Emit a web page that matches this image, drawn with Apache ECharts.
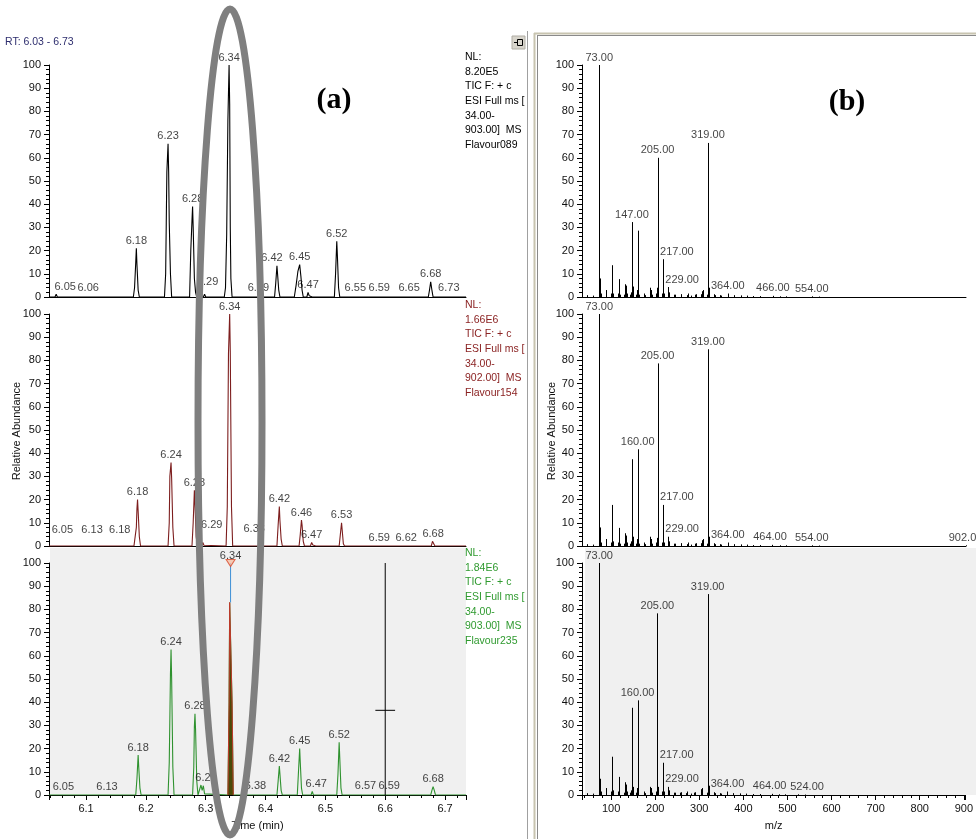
<!DOCTYPE html>
<html><head><meta charset="utf-8">
<script src="https://cdn.jsdelivr.net/npm/echarts@6/dist/echarts.min.js"></script>
<style>html,body{margin:0;padding:0;background:#fff}#c{width:976px;height:839px}</style>
</head><body><div id="c"></div>
<script>
// ---------------- DATA ----------------
// Chromatogram traces [retention time (min), relative abundance %]
const chrom089 = [[6.038,0],[6.048,0],[6.050,1.2],[6.052,0],[6.058,0],[6.060,0.6],[6.062,0],
[6.179,0],[6.181,4],[6.183,15],[6.184,21],[6.185,14],[6.187,3],[6.189,0],
[6.231,0],[6.233,10],[6.234,32],[6.235,54],[6.237,66],[6.238,54],[6.239,32],[6.241,10],[6.243,0],
[6.273,0],[6.275,20],[6.277,33],[6.278,39],[6.279,30],[6.281,8],[6.283,2],[6.285,0],
[6.296,0],[6.298,1.2],[6.300,0],
[6.331,0],[6.333,4],[6.335,27],[6.337,76],[6.339,100],[6.340,83],[6.341,30],[6.342,8],[6.344,0],
[6.386,0],[6.388,0.6],[6.390,0],
[6.415,0],[6.417,6],[6.419,13.5],[6.420,10],[6.422,3],[6.424,0],
[6.448,0],[6.451,5],[6.454,11],[6.457,14],[6.459,9],[6.461,3],[6.463,0],
[6.469,0],[6.471,2],[6.473,0.5],[6.476,1],[6.478,0],
[6.515,0],[6.517,10],[6.519,24],[6.520,18],[6.522,4],[6.524,0],
[6.548,0],[6.550,0.5],[6.552,0],
[6.588,0],[6.590,0.5],[6.592,0],
[6.648,0],[6.650,0.5],[6.652,0],
[6.672,0],[6.674,3],[6.676,6.5],[6.678,3],[6.680,0],
[6.726,0],[6.728,0.5],[6.730,0],[6.735,0]];

const chrom154 = [[6.038,0],[6.050,0],[6.052,0.4],[6.054,0],
[6.128,0],[6.130,0.4],[6.132,0],
[6.176,0],[6.178,0.3],[6.180,0],
[6.182,0],[6.184,8],[6.185,16],[6.186,20],[6.187,15],[6.189,4],[6.191,0],
[6.237,0],[6.239,10],[6.240,30],[6.242,36],[6.243,29],[6.245,8],[6.247,0],
[6.277,0],[6.279,10],[6.281,24],[6.282,18],[6.284,4],[6.286,0],
[6.293,0],[6.295,1.5],[6.297,0.3],[6.299,0],
[6.334,0],[6.336,17],[6.337,50],[6.338,83],[6.340,100],[6.341,84],[6.342,50],[6.343,17],[6.345,0],
[6.379,0],[6.381,0.5],[6.383,0],
[6.419,0],[6.421,9],[6.423,17],[6.424,11],[6.426,3],[6.428,0],
[6.456,0],[6.458,5],[6.460,11.2],[6.461,9],[6.463,2],[6.465,0],
[6.475,0],[6.477,1.5],[6.479,0.4],[6.482,0.8],[6.484,0],
[6.523,0],[6.525,5],[6.527,10],[6.528,7],[6.530,1],[6.532,0],
[6.588,0],[6.590,0.3],[6.592,0],
[6.618,0],[6.620,0.4],[6.622,0],
[6.677,0],[6.679,2],[6.681,2],[6.683,0],
[6.735,0]];

const chrom235 = [[6.038,0],[6.050,0],[6.052,0.4],[6.054,0],
[6.133,0],[6.135,0.3],[6.137,0],
[6.183,0],[6.185,7],[6.187,17.2],[6.188,12],[6.190,3],[6.192,0],
[6.237,0],[6.239,14],[6.241,52],[6.242,62.7],[6.243,50],[6.245,12],[6.247,0],
[6.278,0],[6.280,12],[6.281,29.5],[6.282,35],[6.283,28],[6.285,6],[6.287,0],
[6.290,0],[6.292,4.3],[6.294,2],[6.296,4],[6.298,0.5],[6.300,0],
[6.337,0],[6.339,40],[6.340,83],[6.343,83],[6.344,40],[6.346,0],
[6.381,0],[6.383,0.5],[6.385,0],
[6.419,0],[6.421,6],[6.423,12.5],[6.424,9],[6.426,2],[6.428,0],
[6.453,0],[6.455,10],[6.457,20],[6.458,14],[6.460,3],[6.462,0],
[6.476,0],[6.478,1.5],[6.480,0],
[6.519,0],[6.521,9],[6.523,22.7],[6.524,16],[6.526,3],[6.528,0],
[6.565,0],[6.567,0.5],[6.569,0],
[6.588,0],[6.590,0.5],[6.592,0],
[6.676,0],[6.678,2],[6.680,3.6],[6.682,2],[6.684,0],
[6.735,0]];

// Peak labels [text, apex RT, apex abundance]
const labels089 = [['6.05',6.050,1.2],['6.06',6.060,0.6],['6.18',6.184,21],['6.23',6.237,66],['6.28',6.278,39],['6.29',6.298,1.2],['6.34',6.339,100],['6.39',6.388,0.6],['6.42',6.419,13.5],['6.45',6.457,14],['6.47',6.471,2],['6.52',6.519,24],['6.55',6.550,0.5],['6.59',6.590,0.5],['6.65',6.650,0.5],['6.68',6.676,6.5],['6.73',6.728,0.5]];
const labels154 = [['6.05',6.052,0.4],['6.13',6.130,0.4],['6.18',6.178,0.3],['6.18',6.186,20],['6.24',6.242,36],['6.28',6.281,24],['6.29',6.295,1.5],['6.34',6.340,100],['6.38',6.381,0.5],['6.42',6.423,17],['6.46',6.460,11.2],['6.47',6.477,1.5],['6.53',6.527,10],['6.59',6.590,0.3],['6.62',6.620,0.4],['6.68',6.680,2]];
const labels235 = [['6.05',6.052,0.4],['6.13',6.135,0.3],['6.18',6.187,17.2],['6.24',6.242,62.7],['6.28',6.282,35],['6.29',6.292,4.3],['6.34',6.3415,100],['6.38',6.383,0.5],['6.42',6.423,12.5],['6.45',6.457,20],['6.47',6.478,1.5],['6.52',6.523,22.7],['6.57',6.567,0.5],['6.59',6.590,0.5],['6.68',6.680,3.6]];

// Selected (highlighted) peak in Flavour235 and cursor
const selPeakRange = [6.337, 6.346];
const selApex = [6.3415, 83, 100];
const cursorRt = 6.60, cursorLevel = 36.5, cursorHalf = 0.0165;

// Mass spectra [m/z, relative abundance %]
const spec089 = [[45,0.8],[59,0.6],[73,100],[74,8],[75,4.8],[77,1.5],[89,3],[100,1.5],[101,2],[103,13.7],[104,1.5],[115,1.5],[117,7.7],[119,1],[130,1],[131,5.5],[133,4.9],[135,1.5],[143,1],[145,2],[147,32.3],[148,4],[149,4.5],[157,1],[159,3],[160,28.6],[161,4.5],[162,1],[175,1.5],[177,0.8],[189,4],[191,3],[193,1],[201,1.5],[203,4],[204,1.5],[205,60],[206,4],[207,3],[215,1.5],[217,16.3],[218,3],[219,1.5],[229,4.3],[230,1],[231,2],[243,1],[245,1],[257,1],[259,1.2],[271,0.8],[273,1.5],[281,0.6],[289,1],[291,1.2],[303,1.2],[305,2.5],[307,3],[317,1],[319,66.4],[320,10.2],[321,4],[333,1.2],[335,0.8],[347,0.8],[349,0.6],[364,1.5],[377,0.8],[393,0.7],[407,0.6],[421,0.4],[437,0.4],[466,0.5],[481,0.3],[495,0.3],[554,0.3],[570,0.2]];
const spec154 = [[45,0.8],[59,0.6],[73,100],[74,8],[75,5],[77,1.5],[89,3],[100,1.5],[101,2],[103,17.7],[104,2],[115,1.5],[117,7.8],[119,1],[130,1],[131,5.5],[133,4.5],[135,1.5],[143,1],[145,2],[147,37.4],[148,4],[149,4],[157,1],[159,3],[160,41.7],[161,5],[162,1],[175,1.5],[177,0.8],[189,4],[191,3],[193,1],[201,1.5],[203,3.5],[204,1.5],[205,78.7],[206,4],[207,3.5],[215,1.5],[217,17.7],[218,3],[219,1.5],[229,4],[230,1],[231,2],[243,1],[245,1],[257,1],[259,1.2],[271,0.8],[273,1.5],[281,0.6],[289,1],[291,1.2],[303,1.2],[305,2.5],[307,3],[317,1],[319,84.8],[320,8.6],[321,4],[333,1.2],[335,0.8],[347,0.8],[349,0.6],[364,1.5],[377,0.8],[393,0.7],[407,0.6],[421,0.4],[437,0.4],[464,0.5],[481,0.3],[495,0.3],[554,0.3],[570,0.2],[902,0.3]];
const spec235 = [[45,0.8],[59,0.6],[73,100],[74,7],[75,4.7],[77,1.5],[89,3],[100,1.5],[101,2],[103,16.5],[104,2],[115,1.5],[117,7.8],[119,1],[130,1],[131,5.5],[133,4.5],[135,1.5],[143,1],[145,2],[147,37.6],[148,3.5],[149,3.5],[157,1],[159,3],[160,40.8],[161,4],[162,1],[175,1.5],[177,0.8],[189,3.5],[191,3],[193,1],[201,1.5],[203,3.5],[204,1.5],[205,78.3],[206,3.5],[207,3],[215,1.5],[217,13.9],[218,3],[219,1.5],[229,3.5],[230,1],[231,2],[243,1],[245,1],[257,1],[259,1.2],[271,0.8],[273,1.5],[281,0.6],[289,1],[291,1.2],[303,1.2],[305,2.5],[307,3],[317,1],[319,86.6],[320,7.6],[321,4],[333,1.2],[335,0.8],[347,0.8],[349,0.6],[364,1.5],[377,0.8],[393,0.7],[407,0.6],[421,0.4],[437,0.4],[464,0.5],[481,0.3],[495,0.3],[524,0.3],[540,0.2]];

const specLabels089 = [['73.00',73,100],['147.00',147,32.3],['205.00',205,60],['217.00',217,16.3],['229.00',229,4.3],['319.00',319,66.4],['364.00',364,1.5],['466.00',466,0.5],['554.00',554,0.3]];
const specLabels154 = [['73.00',73,100],['160.00',160,41.7],['205.00',205,78.7],['217.00',217,17.7],['229.00',229,4],['319.00',319,84.8],['364.00',364,1.5],['464.00',464,0.5],['554.00',554,0.3],['902.00',902,0.3]];
const specLabels235 = [['73.00',73,100],['160.00',160,40.8],['205.00',205,78.3],['217.00',217,13.9],['229.00',229,3.5],['319.00',319,86.6],['364.00',364,1.5],['464.00',464,0.5],['524.00',524,0.3]];

const rtRange = [6.038, 6.735];
const mzRange = [34, 903];
const infoTexts = [
  ['NL:','8.20E5','TIC F: + c','ESI Full ms [','34.00-','903.00]  MS','Flavour089'],
  ['NL:','1.66E6','TIC F: + c','ESI Full ms [','34.00-','902.00]  MS','Flavour154'],
  ['NL:','1.84E6','TIC F: + c','ESI Full ms [','34.00-','903.00]  MS','Flavour235']
];

// ---------------- STYLE / LAYOUT ----------------
const FONT = '"Liberation Sans", Arial, sans-serif';
const traceColors = ['#000000', '#7d1e1e', '#2f922f'];
const GL = 49, GWL = 417, GR = 582, GWR = 384, TOPS = [65, 314, 563], GH = 232;
// label nudges in px, keyed by trace index and apex position
const chromNudge = [
  {'6.05':[9,0],'6.06':[26,0],'6.298':[3,-5],'6.65':[-6,0],'6.728':[-13,0],'6.419':[-5,0]},
  {'6.052':[5,-8],'6.13':[-12,-8],'6.178':[-13,-8],'6.295':[9,-10],'6.381':[0,-8],'6.62':[9,0]},
  {'6.052':[6,0],'6.292':[5,0],'6.478':[4,0],'6.59':[10,0]}
];
const specNudge = {'217.00':[14,0],'229.00':[14,0],'524.00':[9,0],'464.00':[-2,0]};

const grids = [], xAxes = [], yAxes = [], series = [];
for (let i = 0; i < 6; i++) {
  const left = i < 3;
  grids.push({left: left ? GL : GR, width: left ? GWL : GWR, top: TOPS[i % 3], height: GH, containLabel: false});
  const bottom = (i % 3) === 2;
  xAxes.push({
    type: 'value', gridIndex: i,
    min: left ? rtRange[0] : mzRange[0], max: left ? rtRange[1] : mzRange[1],
    splitNumber: left ? 7 : 9,
    axisLine: {show: true, lineStyle: {color: '#000', width: 1}},
    axisTick: {show: bottom, length: 5, lineStyle: {color: '#000'}},
    minorTick: {show: bottom, splitNumber: 5, length: 3, lineStyle: {color: '#000'}},
    axisLabel: {show: bottom, showMinLabel: false, showMaxLabel: false, fontSize: 11, color: '#111', fontFamily: FONT, margin: 8,
      formatter: v => left ? String(+(+v).toFixed(2)) : String(Math.round(v))},
    splitLine: {show: false},
    name: bottom ? (left ? 'Time (min)' : 'm/z') : '',
    nameLocation: 'middle', nameGap: 25,
    nameTextStyle: {fontSize: 11, color: '#111', fontFamily: FONT}
  });
  yAxes.push({
    type: 'value', gridIndex: i, min: 0, max: 100, interval: 10,
    axisLine: {show: true, lineStyle: {color: '#000', width: 1}},
    axisTick: {show: true, length: 5, lineStyle: {color: '#000'}},
    minorTick: {show: true, splitNumber: 5, length: 3, lineStyle: {color: '#000'}},
    axisLabel: {fontSize: 11, color: '#111', fontFamily: FONT, margin: 8},
    splitLine: {show: false}
  });
}

const traces = [chrom089, chrom154, chrom235];
const chromLabelSets = [labels089, labels154, labels235];
traces.forEach((tr, i) => {
  series.push({type: 'line', xAxisIndex: i, yAxisIndex: i, data: tr, symbol: 'none', showSymbol: false,
    lineStyle: {color: traceColors[i], width: 1.1}, z: 3, silent: true});
  series.push({type: 'scatter', xAxisIndex: i, yAxisIndex: i, symbolSize: 0, silent: true, z: 4,
    data: chromLabelSets[i].map(([t, rt, v]) => {
      const n = chromNudge[i][String(rt)] || chromNudge[i][t] || [0, 0];
      return {value: [rt, v], name: t, label: {offset: n}};
    }),
    label: {show: true, position: 'top', distance: 2, formatter: p => p.name, fontSize: 11, color: '#111', fontFamily: FONT}
  });
});

// highlighted peak (filled) in bottom trace
series.push({type: 'line', xAxisIndex: 2, yAxisIndex: 2,
  data: chrom235.filter(p => p[0] >= selPeakRange[0] && p[0] <= selPeakRange[1]),
  symbol: 'none', lineStyle: {color: '#c0392b', width: 1}, areaStyle: {color: '#4a4a08', opacity: 1}, z: 5, silent: true});
series.push({type: 'line', xAxisIndex: 2, yAxisIndex: 2, data: [[selApex[0], selApex[1]], [selApex[0], selApex[2]]],
  symbol: 'none', lineStyle: {color: '#3d8fd6', width: 1}, z: 5, silent: true});
series.push({type: 'scatter', xAxisIndex: 2, yAxisIndex: 2, data: [[selApex[0], selApex[2]]],
  symbol: 'triangle', symbolRotate: 180, symbolSize: [9, 7],
  itemStyle: {color: '#f6c2a8', borderColor: '#d9482b', borderWidth: 1}, z: 6, silent: true});
// cursor
series.push({type: 'line', xAxisIndex: 2, yAxisIndex: 2, data: [[cursorRt, 100], [cursorRt, 0]],
  symbol: 'none', lineStyle: {color: '#000', width: 1}, z: 5, silent: true});
series.push({type: 'line', xAxisIndex: 2, yAxisIndex: 2, data: [[cursorRt - cursorHalf, cursorLevel], [cursorRt + cursorHalf, cursorLevel]],
  symbol: 'none', lineStyle: {color: '#000', width: 1}, z: 5, silent: true});

// spectra
const spectra = [spec089, spec154, spec235];
const specLabelSets = [specLabels089, specLabels154, specLabels235];
spectra.forEach((sp, k) => {
  const i = 3 + k;
  series.push({type: 'custom', xAxisIndex: i, yAxisIndex: i, data: sp, encode: {x: 0, y: 1}, silent: true, z: 3,
    renderItem: (params, api) => {
      const p0 = api.coord([api.value(0), 0]);
      const p1 = api.coord([api.value(0), api.value(1)]);
      const x = Math.round(p0[0]) + 0.5;
      return {type: 'line', shape: {x1: x, y1: p0[1], x2: x, y2: p1[1]}, style: {stroke: '#000', lineWidth: 1}};
    }});
  series.push({type: 'scatter', xAxisIndex: i, yAxisIndex: i, symbolSize: 0, silent: true, z: 4,
    data: specLabelSets[k].map(([t, mz, v]) => ({value: [mz, v], name: t, label: {offset: specNudge[t] || [0, 0]}})),
    label: {show: true, position: 'top', distance: 2, formatter: p => p.name, fontSize: 11, color: '#111', fontFamily: FONT}
  });
});

// ---------------- GRAPHICS (frames, annotations) ----------------
const infoColors = ['#000000', '#8b2323', '#2f9a2f'];
const infoTops = [50, 298, 546];
const graphic = [
  {type: 'rect', z: -10, shape: {x: 50, y: 548, width: 416, height: 247}, style: {fill: '#f0f0f0'}},
  {type: 'rect', z: -10, shape: {x: 585, y: 548, width: 391, height: 247}, style: {fill: '#f0f0f0'}},
  {type: 'line', z: 50, shape: {x1: 527.5, y1: 31, x2: 527.5, y2: 839}, style: {stroke: '#a0a0a0', lineWidth: 1}},
  {type: 'line', z: 50, shape: {x1: 534.5, y1: 33, x2: 534.5, y2: 839}, style: {stroke: '#c8c4b0', lineWidth: 2}},
  {type: 'line', z: 50, shape: {x1: 537.5, y1: 35, x2: 537.5, y2: 839}, style: {stroke: '#8a8a8a', lineWidth: 1}},
  {type: 'line', z: 50, shape: {x1: 534, y1: 33.5, x2: 976, y2: 33.5}, style: {stroke: '#c8c4b0', lineWidth: 2}},
  {type: 'line', z: 50, shape: {x1: 537, y1: 35.5, x2: 976, y2: 35.5}, style: {stroke: '#8a8a8a', lineWidth: 1}},
  {type: 'rect', z: 50, shape: {x: 512, y: 36, width: 13, height: 13}, style: {fill: '#d8d5cc', stroke: '#b0ada4', lineWidth: 1}},
  {type: 'polyline', z: 51, shape: {points: [[514, 42.5], [517, 42.5]]}, style: {stroke: '#000', lineWidth: 1}},
  {type: 'rect', z: 51, shape: {x: 517.5, y: 39.5, width: 5, height: 6}, style: {fill: 'none', stroke: '#000', lineWidth: 1}},
  {type: 'text', z: 50, x: 5, y: 37, style: {text: 'RT: 6.03 - 6.73', fontSize: 10.5, fontFamily: FONT, fill: '#2e2e6e'}},
  {type: 'text', z: 50, x: 17, y: 431, rotation: Math.PI / 2,
    style: {text: 'Relative Abundance', fontSize: 11, fontFamily: FONT, fill: '#111', align: 'center', verticalAlign: 'middle'}},
  {type: 'text', z: 50, x: 552, y: 431, rotation: Math.PI / 2,
    style: {text: 'Relative Abundance', fontSize: 11, fontFamily: FONT, fill: '#111', align: 'center', verticalAlign: 'middle'}},
  {type: 'text', z: 50, x: 334, y: 100, style: {text: '(a)', font: 'bold 30px "Liberation Serif", "Times New Roman", serif', fill: '#000', align: 'center', verticalAlign: 'middle'}},
  {type: 'text', z: 50, x: 847, y: 102, style: {text: '(b)', font: 'bold 30px "Liberation Serif", "Times New Roman", serif', fill: '#000', align: 'center', verticalAlign: 'middle'}},
  {type: 'ellipse', z: 100, shape: {cx: 230, cy: 422, rx: 32, ry: 413}, style: {fill: 'none', stroke: '#7f7f7f', lineWidth: 7}}
];
infoTexts.forEach((lines, k) => {
  graphic.push({type: 'text', z: 50, x: 465, y: infoTops[k],
    style: {text: lines.join('\n'), fontSize: 10.5, lineHeight: 14.6, fontFamily: FONT, fill: infoColors[k]}});
});

const chart = echarts.init(document.getElementById('c'), null, {renderer: 'canvas'});
chart.setOption({
  animation: false,
  backgroundColor: '#ffffff',
  grid: grids, xAxis: xAxes, yAxis: yAxes, series: series, graphic: graphic
});
</script></body></html>
